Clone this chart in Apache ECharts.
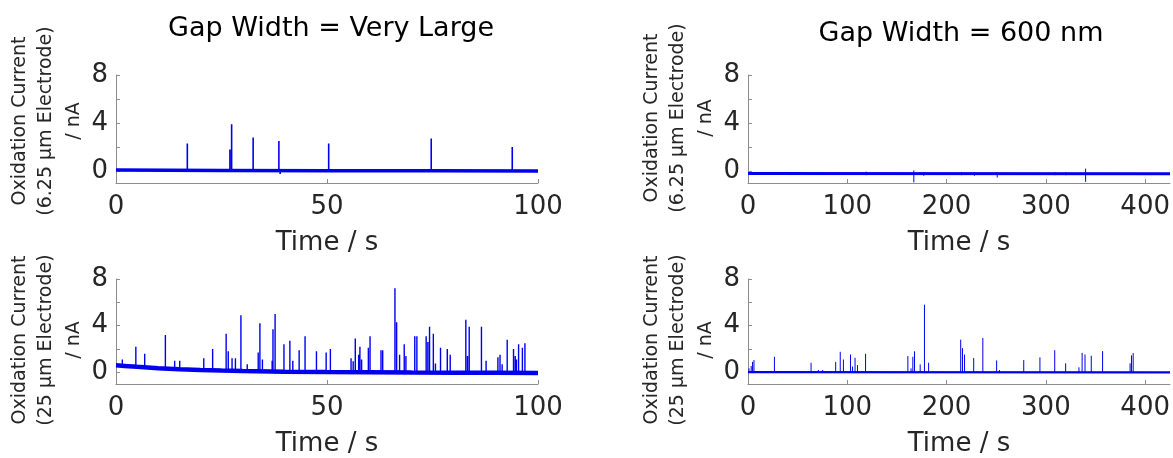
<!DOCTYPE html>
<html>
<head>
<meta charset="utf-8">
<title>Oxidation current traces</title>
<script src="https://cdn.jsdelivr.net/npm/echarts@6/dist/echarts.min.js"></script>
<style>
  html, body { margin: 0; padding: 0; background: #fff; }
  #chart { width: 1173px; height: 458px; }
</style>
</head>
<body>
<div id="chart"></div>
<script>
// ---- data ----
// top left: gap = very large, 6.25 um electrode
var tlBaseT = [0, 25, 50, 75, 100];
var tlBaseV = [0.08, 0.05, 0.03, 0.02, 0.0];
var tlSpikeT  = [16.9, 27.0, 27.4, 32.5, 38.6, 38.9, 50.4, 74.7, 93.9];
var tlSpikeLo = [0.04, 0.04, 0.04, 0.04, 0.04, -0.25, 0.03, 0.02, 0.01];
var tlSpikeHi = [2.3, 1.8, 3.9, 2.8, 2.5, 0.04, 2.3, 2.7, 2.0];

// bottom left: gap = very large, 25 um electrode
var blBaseT = [0, 2, 5, 10, 15, 20, 25, 30, 40, 50, 60, 70, 80, 90, 100];
var blBaseV = [0.6, 0.55, 0.47, 0.36, 0.27, 0.2, 0.15, 0.11, 0.06, 0.02, 0.0, -0.02, -0.03, -0.04, -0.05];
var blSpikeT = [1.5, 4.7, 6.8, 11.7, 13.9, 15.1, 20.8, 22.9, 26.1, 26.6, 27.5, 28.3, 29.6, 31.1, 33.7, 34.1, 34.7,
  37.0, 37.2, 37.7, 39.8, 41.2, 41.9, 43.4, 44.8, 47.5, 49.8, 50.8, 55.7, 56.2, 56.7, 57.5, 57.8, 58.2, 59.8,
  60.2, 62.8, 63.2, 66.1, 66.5, 67.2, 68.3, 68.7, 70.8, 71.3, 73.5, 73.9, 74.3, 75.2, 75.7, 76.9, 78.5, 79.2,
  82.9, 83.3, 83.7, 86.6, 87.7, 90.5, 91.0, 91.5, 92.7, 94.2, 94.6, 94.9, 95.4, 96.3, 96.9];
var blSpikeLo = [0.55, 0.5, 0.42, 0.3, 0.3, 0.25, 0.18, 0.18, 0.13, 0.13, 0.13, 0.13, 0.12, 0.09, 0.09, 0.09, 0.09,
  0.09, 0.09, 0.09, 0.08, 0.04, 0.04, 0.04, 0.04, 0.04, 0.03, 0.01, 0.01, 0.01, 0.01, 0.01, 0.01, 0.01, 0.0,
  -0.02, -0.02, -0.02, -0.02, -0.02, -0.02, -0.02, -0.02, -0.02, -0.02, -0.02, -0.02, -0.02, -0.02, -0.02, -0.02, -0.02, -0.02,
  -0.04, -0.04, -0.04, -0.04, -0.04, -0.04, -0.04, -0.04, -0.04, -0.04, -0.04, -0.04, -0.04, -0.04, -0.04];
var blSpikeHi = [1.1, 2.2, 1.6, 3.2, 1.0, 1.0, 1.2, 2.0, 3.3, 1.8, 1.2, 1.2, 4.9, 0.7, 1.7, 4.2, 1.1,
  1.0, 3.7, 5.0, 2.4, 2.7, 1.0, 1.9, 3.1, 1.8, 1.7, 2.0, 1.2, 0.95, 2.9, 1.5, 2.2, 1.1, 2.1,
  3.1, 1.9, 1.9, 7.2, 4.3, 1.5, 2.4, 1.4, 3.1, 3.1, 3.1, 2.6, 3.9, 3.3, 0.75, 2.1, 2.0, 1.5,
  4.5, 1.4, 3.9, 3.9, 1.0, 1.3, 1.5, 0.7, 2.8, 2.0, 1.4, 1.1, 2.4, 2.1, 2.5];

// top right: gap = 600 nm, 6.25 um electrode
var trBaseT = [0, 425];
var trBaseV = [-0.2, -0.22];
var trSpikeT  = [119, 167, 177, 215, 228, 251, 309, 320, 340];
var trSpikeLo = [-0.35, -0.95, -0.4, -0.35, -0.4, -0.55, -0.35, -0.35, -0.9];
var trSpikeHi = [-0.05, 0.05, -0.1, -0.1, -0.1, -0.1, -0.1, -0.1, 0.2];

// bottom right: gap = 600 nm, 25 um electrode
var brBaseT = [0, 425];
var brBaseV = [0.02, 0.0];
var brSpikeT = [1.0, 3.2, 4.6, 6.0, 26.6, 63.5, 70.9, 75.2, 88.3, 92.9, 96.1, 103.2, 105.3, 107.8, 110.3, 118.4,
  161, 164.2, 166, 167.7, 173.4, 177.7, 181.9, 214.2, 216, 218.1, 227.3, 236.5, 250.4, 253.2, 277.7, 294,
  308.9, 319.9, 333.3, 336.5, 339.4, 345.7, 357.1, 384.8, 386.2, 387.9];
var brSpikeHi = [0.34, 0.54, 0.9, 1.05, 1.33, 0.82, 0.2, 0.2, 0.9, 1.76, 1.1, 1.53, 0.5, 1.25, 0.62, 1.59,
  1.39, 0.34, 1.33, 1.8, 0.68, 5.8, 0.82, 2.8, 2.07, 1.53, 1.22, 2.95, 1.02, 0.2, 1.05, 1.28,
  1.9, 0.77, 0.43, 1.67, 1.53, 1.42, 1.82, 0.77, 1.45, 1.65];
var brSpikeLo = brSpikeT.map(function () { return 0; });

// ticks
var yTicks = [0, 2, 4, 6, 8];
var yLabels = [0, 4, 8];
var xTicksL = [0, 50, 100];
var xTicksR = [0, 100, 200, 300, 400];

var titles = ['Gap Width = Very Large', 'Gap Width = 600 nm'];
var yNames6 = ['Oxidation Current', '(6.25 \u03bcm Electrode)', '/ nA'];
var yNames25 = ['Oxidation Current', '(25 \u03bcm Electrode)', '/ nA'];

// ---- helpers ----
var FONT = 'DejaVu Sans';
var BLUE = '#0000ee';
var AXIS = '#8c8c8c';
var TEXT = '#262626';

function pairs(ts, vs) {
  return ts.map(function (t, i) { return [t, vs[i]]; });
}
// each spike is a vertical segment lo -> hi, broken from the next one
function spikes(ts, lo, hi) {
  var out = [];
  for (var i = 0; i < ts.length; i++) {
    out.push([ts[i], lo[i]], [ts[i], hi[i]], [ts[i], '-']);
  }
  return out;
}

var grids = [
  { left: 116, top: 75, width: 422, height: 108 },
  { left: 116, top: 279, width: 422, height: 108 },
  { left: 748, top: 75, width: 422, height: 108 },
  { left: 748, top: 279, width: 422, height: 108 }
];

function xAxis(idx, max, ticks) {
  return {
    type: 'value', gridIndex: idx, min: 0, max: max,
    name: 'Time / s', nameLocation: 'middle', nameGap: 47,
    nameTextStyle: { fontSize: 26, color: TEXT, fontFamily: FONT },
    axisLine: { onZero: false, lineStyle: { color: AXIS, width: 1 } },
    axisTick: { inside: true, length: 4, customValues: ticks, lineStyle: { color: AXIS } },
    axisLabel: { customValues: ticks, margin: 11, fontSize: 26, color: TEXT, fontFamily: FONT },
    splitLine: { show: false }
  };
}
function yAxis(idx) {
  return {
    type: 'value', gridIndex: idx, min: -1, max: 8,
    axisLine: { show: true, lineStyle: { color: AXIS, width: 1 } },
    axisTick: { show: true, inside: true, length: 4, customValues: yTicks, lineStyle: { color: AXIS } },
    axisLabel: { customValues: yLabels, margin: 8, fontSize: 26, color: TEXT, fontFamily: FONT },
    splitLine: { show: false }
  };
}
function lineSeries(idx, data, width) {
  return {
    type: 'line', xAxisIndex: idx, yAxisIndex: idx, data: data,
    showSymbol: false, symbol: 'none', connectNulls: false,
    lineStyle: { color: BLUE, width: width }, animation: false, silent: true
  };
}
function yName(lines, axisX, centerY) {
  var offs = [-96, -70, -42];
  return lines.map(function (s, i) {
    return {
      type: 'text', x: axisX + offs[i], y: centerY, rotation: Math.PI / 2,
      style: { text: s, fontSize: 19, fontFamily: FONT, fill: TEXT, align: 'center', verticalAlign: 'middle' }
    };
  });
}

var chart = echarts.init(document.getElementById('chart'), null, { renderer: 'canvas' });

chart.setOption({
  animation: false,
  backgroundColor: '#fff',
  title: [
    { text: titles[0], left: 326, top: 10, textAlign: 'center',
      textStyle: { fontSize: 27, fontWeight: 'normal', color: '#000', fontFamily: FONT } },
    { text: titles[1], left: 956, top: 15, textAlign: 'center',
      textStyle: { fontSize: 27, fontWeight: 'normal', color: '#000', fontFamily: FONT } }
  ],
  grid: grids,
  xAxis: [xAxis(0, 100, xTicksL), xAxis(1, 100, xTicksL), xAxis(2, 425, xTicksR), xAxis(3, 425, xTicksR)],
  yAxis: [yAxis(0), yAxis(1), yAxis(2), yAxis(3)],
  graphic: [].concat(
    yName(yNames6, 116, 121),
    yName(yNames25, 116, 340),
    yName(yNames6, 748, 118),
    yName(yNames25, 748, 340)
  ),
  series: [
    lineSeries(0, pairs(tlBaseT, tlBaseV), 3.5),
    lineSeries(0, spikes(tlSpikeT, tlSpikeLo, tlSpikeHi), 1.6),
    lineSeries(1, pairs(blBaseT, blBaseV), 4.5),
    lineSeries(1, spikes(blSpikeT, blSpikeLo, blSpikeHi), 1.4),
    lineSeries(2, pairs(trBaseT, trBaseV), 3),
    lineSeries(2, spikes(trSpikeT, trSpikeLo, trSpikeHi), 1),
    lineSeries(3, pairs(brBaseT, brBaseV), 2.2),
    lineSeries(3, spikes(brSpikeT, brSpikeLo, brSpikeHi), 1)
  ]
});
</script>
</body>
</html>
